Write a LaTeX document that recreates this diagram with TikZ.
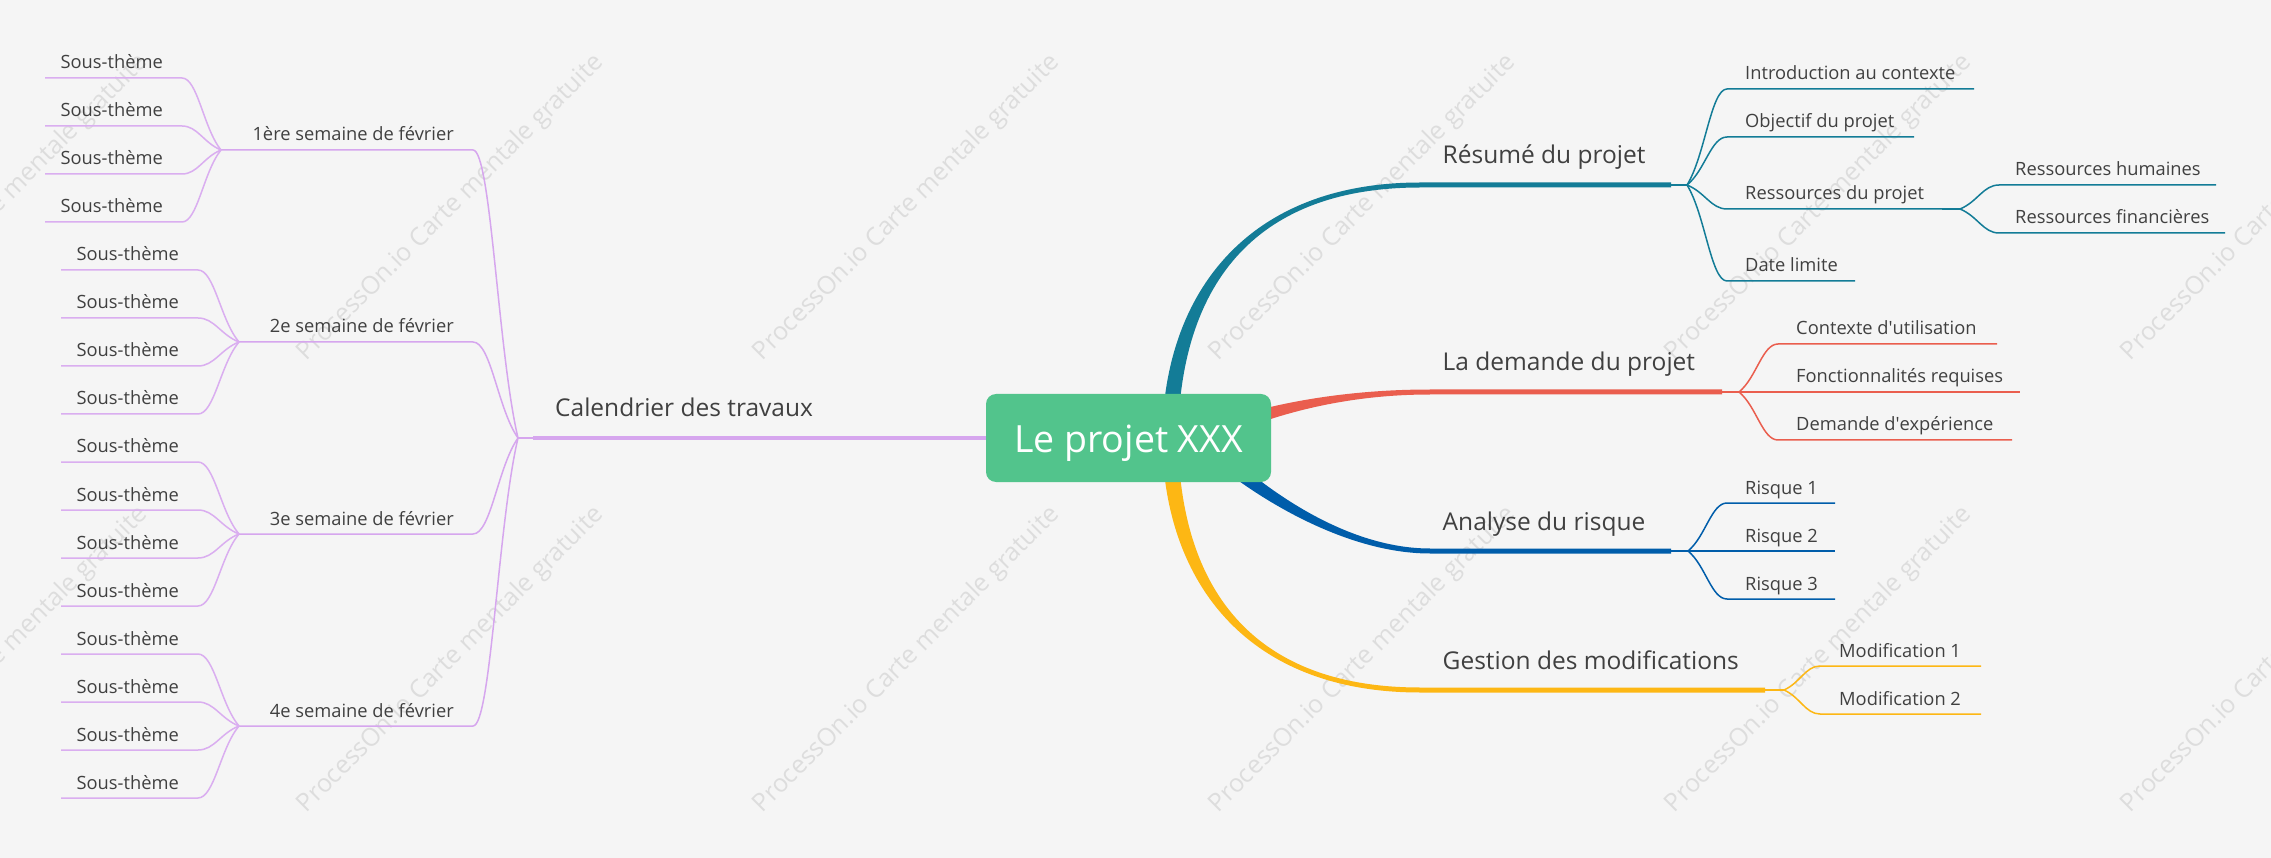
\documentclass[tikz,border=0pt]{standalone}
\usepackage{fontspec}
\setmainfont{Open Sans}
\usetikzlibrary{calc}
\definecolor{bg}{HTML}{F5F5F5}
\definecolor{txt}{HTML}{404040}
\definecolor{rootc}{HTML}{52C48C}
\definecolor{cTeal}{HTML}{137C97}
\definecolor{cRed}{HTML}{EA5E4E}
\definecolor{cBlue}{HTML}{005DAA}
\definecolor{cYel}{HTML}{FDB714}
\definecolor{cPur}{HTML}{D6A6EE}
\definecolor{cPurL}{HTML}{DAAEF0}
\definecolor{cWm}{HTML}{DDDDDD}
\begin{document}
\begin{tikzpicture}[x=1pt,y=-1pt,
  lbl/.style={inner sep=0pt, font=\fontsize{18.3}{22}\selectfont, text=txt},
  mlbl/.style={inner sep=0pt, font=\fontsize{24.5}{28}\selectfont, text=txt},
  wm/.style={inner sep=0pt, rotate=45, font=\fontsize{25}{28}\selectfont, text=cWm},
  rootbox/.style={rounded corners=10pt, fill=rootc, text=white, minimum width=285pt,
    minimum height=88pt, inner sep=0pt, text height=29pt, text depth=0pt,
    font=\fontsize{37.5}{40}\selectfont},
  leafline/.style={line width=1.5pt},
  curv/.style={to path={let \p1=(\tikztostart), \p2=(\tikztotarget) in
     .. controls ({\x1+0.45*(\x2-\x1)},{\y1+0.3*(\y2-\y1)}) and ({\x2-0.4*(\x2-\x1)},\y2) .. (\tikztotarget)}}
]
\fill[bg] (0,0) rectangle (2271,858);
\useasboundingbox (0,0) rectangle (2271,858);

% watermarks
\foreach \i/\xx in {0/-5,1/451,2/907,3/1363,4/1819,5/2275}{
  \foreach \j/\yy in {0/208,1/660}{
    \node[wm] (wm-\i-\j) at (\xx,\yy) {ProcessOn.io Carte mentale gratuite};
  }
}

% ---------- main branches (right) ----------
% Résumé du projet (teal)
\coordinate (tB) at (1671,185); \coordinate (tF) at (1687,185);
\fill[cTeal] (1162,438) .. controls (1164,290) and (1250,182.5) .. (1420,182.5) -- ($(tB)+(0,-2.5)$)
  -- ($(tB)+(0,2.5)$) -- (1420,187.5) .. controls (1250,187.5) and (1180,290) .. (1178,438) -- cycle;
% La demande du projet (red)
\coordinate (rB) at (1722,392); \coordinate (rF) at (1739,392);
\fill[cRed] (1196.7,430.7) .. controls (1236.7,412.7) and (1320,389.5) .. (1430,389.5) -- ($(rB)+(0,-2.5)$)
  -- ($(rB)+(0,2.5)$) -- (1430,394.5) .. controls (1320,394.5) and (1243.3,427.3) .. (1203.3,445.3) -- cycle;
% Analyse du risque (blue)
\coordinate (bB) at (1671,551); \coordinate (bF) at (1688,551);
\fill[cBlue] (1205.8,432.5) .. controls (1235.8,464.5) and (1330,548.5) .. (1430,548.5) -- ($(bB)+(0,-2.5)$)
  -- ($(bB)+(0,2.5)$) -- (1430,553.5) .. controls (1330,553.5) and (1224.2,475.5) .. (1194.2,443.5) -- cycle;
% Gestion des modifications (yellow)
\coordinate (yB) at (1765,690); \coordinate (yF) at (1784,690);
\fill[cYel] (1178,438) .. controls (1180,586) and (1250,687.5) .. (1420,687.5) -- ($(yB)+(0,-2.5)$)
  -- ($(yB)+(0,2.5)$) -- (1420,692.5) .. controls (1250,692.5) and (1164,586) .. (1162,438) -- cycle;

% ---------- left main branch ----------
\coordinate (calB) at (533,438); \coordinate (calF) at (518,438);
\draw[cPur, line width=4pt] (1128,438) -- (calB);
\draw[cPur, leafline] (calB) -- (calF);

% root
\node[rootbox] (root) at (1128.5,438) {Le projet XXX};

% main labels
\node[mlbl, anchor=base west] (cal) at (555,417) {Calendrier des travaux};
\node[mlbl, anchor=base west] (res) at (1442.5,164) {Résumé du projet};
\node[mlbl, anchor=base west] (dem) at (1442.5,371) {La demande du projet};
\node[mlbl, anchor=base west] (ana) at (1442.5,530) {Analyse du risque};
\node[mlbl, anchor=base west] (ges) at (1442.5,669) {Gestion des modifications};

% ---------- weeks ----------
\foreach \w/\yy/\s/\f/\t in {1/150/240/221/1ère semaine de février,
                            2/342/257/239/2e semaine de février,
                            3/534/257/239/3e semaine de février,
                            4/726/257/239/4e semaine de février}{
  \coordinate (w\w e) at (473,\yy);
  \coordinate (w\w s) at (\s,\yy);
  \coordinate (w\w f) at (\f,\yy);
  \draw[cPur, leafline] (calF) to[curv] (w\w e) -- (w\w s) -- (w\w f);
  \node[lbl, anchor=base east] (w\w) at (454,\yy-9) {\t};
}

% ---------- sous-thèmes ----------
\foreach \k in {0,...,15}{
  \pgfmathtruncatemacro{\g}{int(\k/4)+1}
  \pgfmathsetmacro{\yy}{78+48*\k}
  \ifnum\g=1
    \coordinate (s\k e) at (182,\yy); \coordinate (s\k s) at (45,\yy);
    \node[lbl, anchor=base east] (s\k) at (163,\yy-9) {Sous-thème};
  \else
    \coordinate (s\k e) at (198,\yy); \coordinate (s\k s) at (61,\yy);
    \node[lbl, anchor=base east] (s\k) at (179,\yy-9) {Sous-thème};
  \fi
  \draw[cPurL, leafline] (w\g f) to[curv] (s\k e) -- (s\k s);
}

% ---------- Résumé children ----------
\draw[cTeal, leafline] (tB) -- (tF);
\foreach \q/\yy/\e/\t in {a/89/1974/Introduction au contexte,
                         b/137/1914/Objectif du projet,
                         c/209/1942/Ressources du projet,
                         d/281/1855/Date limite}{
  \coordinate (rs\q s) at (1727,\yy); \coordinate (rs\q e) at (\e,\yy);
  \draw[cTeal, leafline] (tF) to[curv] (rs\q s) -- (rs\q e);
  \node[lbl, anchor=base west] (rs\q) at (1745,\yy-9) {\t};
}
\coordinate (rscf) at (1960,209);
\draw[cTeal, leafline] (rsce) -- (rscf);
\foreach \q/\yy/\e/\t in {h/185/2216/Ressources humaines,
                         f/233/2225/Ressources financières}{
  \coordinate (rr\q s) at (1999,\yy); \coordinate (rr\q e) at (\e,\yy);
  \draw[cTeal, leafline] (rscf) to[curv] (rr\q s) -- (rr\q e);
  \node[lbl, anchor=base west] (rr\q) at (2015,\yy-9) {\t};
}

% ---------- La demande children ----------
\draw[cRed, leafline] (rB) -- (rF);
\foreach \q/\yy/\e/\t in {a/344/1997/Contexte d\textquotesingle utilisation,
                         b/392/2020/Fonctionnalités requises,
                         c/440/2012/Demande d\textquotesingle expérience}{
  \coordinate (dm\q s) at (1778,\yy); \coordinate (dm\q e) at (\e,\yy);
  \draw[cRed, leafline] (rF) to[curv] (dm\q s) -- (dm\q e);
  \node[lbl, anchor=base west] (dm\q) at (1796,\yy-9) {\t};
}

% ---------- Analyse children ----------
\draw[cBlue, leafline] (bB) -- (bF);
\foreach \q/\yy/\t in {a/503/Risque 1, b/551/Risque 2, c/599/Risque 3}{
  \coordinate (an\q s) at (1727,\yy); \coordinate (an\q e) at (1835,\yy);
  \draw[cBlue, leafline] (bF) to[curv] (an\q s) -- (an\q e);
  \node[lbl, anchor=base west] (an\q) at (1745,\yy-9) {\t};
}

% ---------- Gestion children ----------
\draw[cYel, leafline] (yB) -- (yF);
\foreach \q/\yy/\t in {a/666/Modification 1, b/714/Modification 2}{
  \coordinate (gm\q s) at (1820,\yy); \coordinate (gm\q e) at (1981,\yy);
  \draw[cYel, leafline] (yF) to[curv] (gm\q s) -- (gm\q e);
  \node[lbl, anchor=base west] (gm\q) at (1839,\yy-9) {\t};
}
\end{tikzpicture}
\end{document}
